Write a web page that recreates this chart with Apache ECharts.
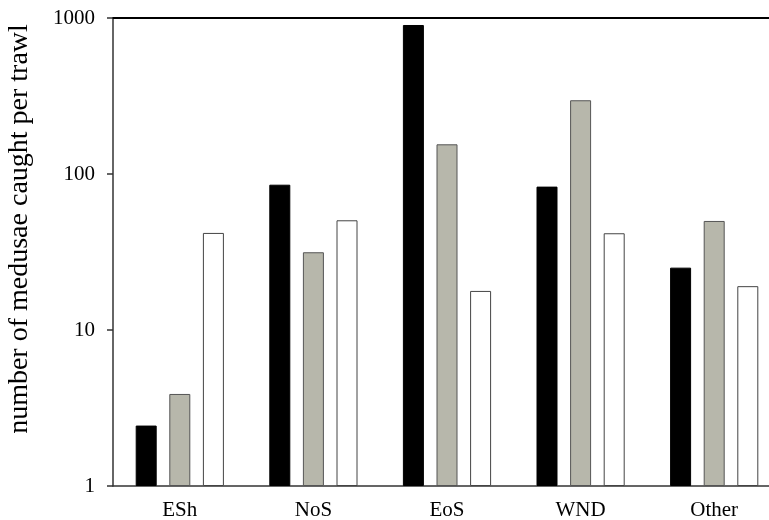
<!DOCTYPE html>
<html>
<head>
<meta charset="utf-8">
<script src="https://cdn.jsdelivr.net/npm/echarts@6/dist/echarts.min.js"></script>
<style>
  html, body { margin: 0; padding: 0; background: #fff; }
  #chart { width: 769px; height: 520px; }
</style>
</head>
<body>
<div id="chart"></div>
<script>
// Regions and catch rates (medusae per trawl), three groups per region
const categories = ['ESh', 'NoS', 'EoS', 'WND', 'Other'];
const seriesBlack = [2.44, 85.4, 902, 83, 25.1];
const seriesGray = [3.89, 31.5, 155, 297, 50];
const seriesWhite = [41.9, 50.5, 17.8, 41.7, 19.1];
const yTicks = [1, 10, 100, 1000];
const yTitle = 'number of medusae caught per trawl';

const font = '"Liberation Serif", "Times New Roman", serif';

const chart = echarts.init(document.getElementById('chart'));

function barSeries(name, data, fill, border) {
  return {
    name: name,
    type: 'bar',
    data: data,
    barWidth: 21,
    barGap: '60%',
    itemStyle: { color: fill, borderColor: border, borderWidth: 1 },
    silent: true
  };
}

chart.setOption({
  animation: false,
  // plot area runs slightly past the right edge of the canvas
  grid: {
    left: 113, width: 668, top: 18, bottom: 34,
    containLabel: false, outerBoundsMode: 'none'
  },
  xAxis: [
    {
      type: 'category',
      data: categories,
      axisLine: { lineStyle: { color: '#333', width: 1.5 } },
      axisTick: { show: false },
      axisLabel: { color: '#000', fontFamily: font, fontSize: 21, margin: 14 }
    },
    {
      type: 'category',
      position: 'top',
      data: categories,
      axisLine: { lineStyle: { color: '#000', width: 2 } },
      axisTick: { show: false },
      axisLabel: { show: false }
    }
  ],
  yAxis: {
    type: 'log',
    logBase: 10,
    min: yTicks[0],
    max: yTicks[yTicks.length - 1],
    axisLine: { show: true, lineStyle: { color: '#333', width: 1.5 } },
    axisTick: { show: true, inside: false, length: 6, lineStyle: { color: '#333', width: 1.5 } },
    splitLine: { show: false },
    minorTick: { show: false },
    axisLabel: {
      color: '#000', fontFamily: font, fontSize: 21, margin: 18,
      formatter: v => String(Math.round(v))
    }
  },
  graphic: [{
    type: 'text',
    x: 20,
    y: 229,
    rotation: Math.PI / 2,
    style: {
      text: yTitle,
      fill: '#000',
      font: '28px ' + font,
      textAlign: 'center',
      textVerticalAlign: 'middle'
    }
  }],
  series: [
    barSeries('black', seriesBlack, '#000000', '#000000'),
    barSeries('gray', seriesGray, '#b7b7ab', '#555555'),
    barSeries('white', seriesWhite, '#ffffff', '#444444')
  ]
});
</script>
</body>
</html>
